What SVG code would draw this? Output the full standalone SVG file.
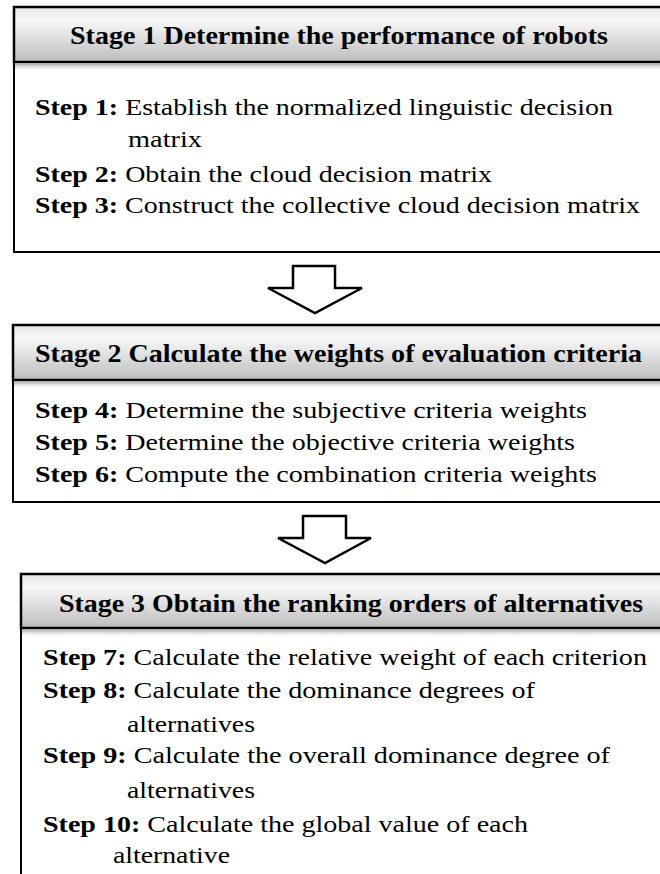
<svg xmlns="http://www.w3.org/2000/svg" width="660" height="874" viewBox="0 0 660 874">
  <defs>
    <linearGradient id="hdr" x1="0" y1="0" x2="0" y2="1">
      <stop offset="0" stop-color="#e6e6e6"/>
      <stop offset="0.25" stop-color="#f7f7f7"/>
      <stop offset="1" stop-color="#bdbdbd"/>
    </linearGradient>
    <linearGradient id="shd" x1="0" y1="0" x2="0" y2="1">
      <stop offset="0" stop-color="#a8a8a8"/>
      <stop offset="1" stop-color="#ffffff" stop-opacity="0"/>
    </linearGradient>
    <style>
      .box { fill: #ffffff; stroke: #000000; stroke-width: 2; }
      .hdr { fill: url(#hdr); stroke: #000000; stroke-width: 2.5; }
      .shd { fill: url(#shd); stroke: none; }
      text { font-family: "Liberation Serif", "Times New Roman", serif; fill: #000; }
      .ht { font-weight: bold; font-size: 25px; }
      .bt { font-weight: normal; font-size: 24px; }
      .b { font-weight: bold; }
      .arrow { fill: #ffffff; stroke: #000000; stroke-width: 2.5; stroke-linejoin: miter; }
    </style>
  </defs>
  <rect width="660" height="874" fill="#ffffff"/>

  <g id="stage1">
    <rect class="box" x="14" y="7" width="660" height="245"/>
    <rect class="hdr" x="14" y="7" width="660" height="55"/>
    <rect class="shd" x="15" y="63.5" width="660" height="8"/>
    <text class="ht" x="70" y="44" textLength="538" lengthAdjust="spacingAndGlyphs">Stage 1 Determine the performance of robots</text>
    <text class="bt" x="35" y="115" textLength="578" lengthAdjust="spacingAndGlyphs"><tspan class="b">Step 1:</tspan> Establish the normalized linguistic decision</text>
    <text class="bt" x="128" y="147" textLength="74" lengthAdjust="spacingAndGlyphs">matrix</text>
    <text class="bt" x="35" y="182" textLength="457" lengthAdjust="spacingAndGlyphs"><tspan class="b">Step 2:</tspan> Obtain the cloud decision matrix</text>
    <text class="bt" x="35" y="213" textLength="605" lengthAdjust="spacingAndGlyphs"><tspan class="b">Step 3:</tspan> Construct the collective cloud decision matrix</text>
  </g>

  <g id="stage2">
    <rect class="box" x="13" y="325" width="660" height="177"/>
    <rect class="hdr" x="13" y="325" width="660" height="55"/>
    <rect class="shd" x="14" y="381.5" width="660" height="8"/>
    <text class="ht" x="35" y="362" textLength="607" lengthAdjust="spacingAndGlyphs">Stage 2 Calculate the weights of evaluation criteria</text>
    <text class="bt" x="35" y="418" textLength="552" lengthAdjust="spacingAndGlyphs"><tspan class="b">Step 4:</tspan> Determine the subjective criteria weights</text>
    <text class="bt" x="35" y="450" textLength="540" lengthAdjust="spacingAndGlyphs"><tspan class="b">Step 5:</tspan> Determine the objective criteria weights</text>
    <text class="bt" x="35" y="482" textLength="562" lengthAdjust="spacingAndGlyphs"><tspan class="b">Step 6:</tspan> Compute the combination criteria weights</text>
  </g>

  <g id="stage3">
    <rect class="box" x="21" y="574" width="660" height="320"/>
    <rect class="hdr" x="21" y="574" width="660" height="54"/>
    <rect class="shd" x="22" y="629.5" width="660" height="8"/>
    <text class="ht" x="59" y="612" textLength="584" lengthAdjust="spacingAndGlyphs">Stage 3 Obtain the ranking orders of alternatives</text>
    <text class="bt" x="43" y="665" textLength="604" lengthAdjust="spacingAndGlyphs"><tspan class="b">Step 7:</tspan> Calculate the relative weight of each criterion</text>
    <text class="bt" x="43" y="698" textLength="492" lengthAdjust="spacingAndGlyphs"><tspan class="b">Step 8:</tspan> Calculate the dominance degrees of</text>
    <text class="bt" x="127" y="732" textLength="128" lengthAdjust="spacingAndGlyphs">alternatives</text>
    <text class="bt" x="43" y="763" textLength="567" lengthAdjust="spacingAndGlyphs"><tspan class="b">Step 9:</tspan> Calculate the overall dominance degree of</text>
    <text class="bt" x="127" y="798" textLength="128" lengthAdjust="spacingAndGlyphs">alternatives</text>
    <text class="bt" x="43" y="832" textLength="485" lengthAdjust="spacingAndGlyphs"><tspan class="b">Step 10:</tspan> Calculate the global value of each</text>
    <text class="bt" x="113" y="863" textLength="117" lengthAdjust="spacingAndGlyphs">alternative</text>
  </g>

  <g id="connectors">
    <polygon class="arrow" points="293,266 335,266 335,288 362,288 315,313 268,288 293,288"/>
    <polygon class="arrow" points="303,516 346,516 346,538 371,538 325,563 278,538 303,538"/>
  </g>
</svg>
